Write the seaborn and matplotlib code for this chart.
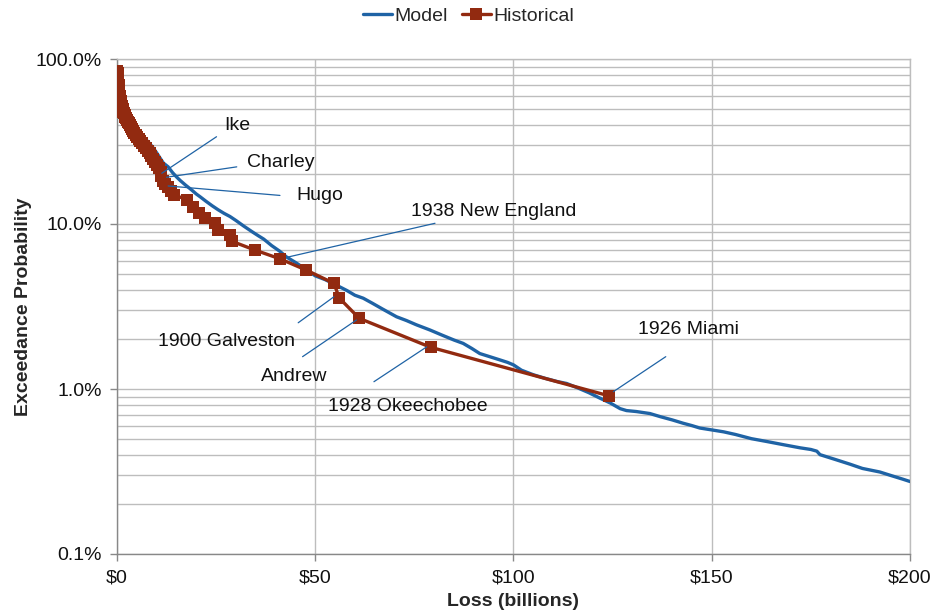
import matplotlib
matplotlib.use("Agg")
import matplotlib.pyplot as plt
import matplotlib.ticker as mticker
import seaborn as sns
import pandas as pd
import numpy as np

# ---------------- data ----------------
model_loss = [0.3, 0.6, 1.0, 1.5, 2.0, 2.5, 3.2, 4.0, 5.0, 6.0, 7.0, 8.0, 9.0, 10.0,
              11.0, 11.7, 12.9, 14.0, 15.0, 16.0, 17.3, 18.8, 20.0, 21.0, 22.5, 24.0,
              25.5, 27.0, 28.5, 30.0, 32.0, 34.0, 35.6, 37.0, 39.0, 41.0, 42.8, 45.0,
              47.7, 50.0, 52.5, 55.0, 58.0, 60.0, 62.1, 64.5, 67.0, 70.5, 73.0, 75.5,
              78.9, 82.0, 85.0, 87.3, 89.5, 91.5, 94.0, 96.6, 98.5, 100.0, 102.0, 105.0,
              108.0, 111.0, 113.4, 116.0, 119.0, 121.8, 124.5, 126.9, 128.5, 131.0,
              134.4, 137.0, 140.0, 142.8, 145.0, 147.0, 150.0, 153.0, 156.0, 160.0,
              164.0, 168.0, 172.3, 175.0, 176.5, 177.3, 181.0, 184.9, 188.0, 192.4,
              195.0, 198.0, 200.0]
model_prob = [78, 68, 58, 52, 48, 45, 42.5, 40.5, 38.5, 35.5, 33, 31.2, 29.2, 27,
              24.8, 23.4, 22.2, 20.5, 19.3, 18.3, 17.2, 16.1, 15.2, 14.6, 13.7, 12.9,
              12.2, 11.6, 11.1, 10.5, 9.7, 9.0, 8.5, 8.1, 7.4, 6.85, 6.3, 5.85,
              5.3, 4.85, 4.6, 4.3, 3.95, 3.7, 3.55, 3.3, 3.05, 2.74, 2.6, 2.45,
              2.28, 2.12, 1.98, 1.89, 1.76, 1.64, 1.57, 1.5, 1.45, 1.40, 1.30, 1.22,
              1.16, 1.11, 1.08, 1.02, 0.95, 0.88, 0.82, 0.76, 0.74, 0.73,
              0.71, 0.68, 0.65, 0.62, 0.60, 0.58, 0.565, 0.55, 0.53, 0.50,
              0.48, 0.46, 0.44, 0.43, 0.42, 0.40, 0.375, 0.35, 0.33, 0.314,
              0.30, 0.285, 0.275]

hist_loss = [124.0, 79.1, 61.1, 56.1, 54.7, 47.7, 41.1, 34.8, 29.0, 28.5, 25.4, 24.6,
             22.1, 20.8, 19.2, 17.7, 14.5, 13.5, 12.9, 12.0, 11.6, 11.2, 11.0,
             10.5, 10.0, 9.5, 9.0, 8.6, 8.2, 7.8, 7.3, 6.8, 6.3, 5.9, 5.5, 5.1, 4.7,
             4.4, 4.1, 3.8, 3.5, 3.2, 3.0, 2.7, 2.5, 2.3, 2.1, 1.9, 1.8, 1.6, 1.5,
             1.4, 1.3, 1.2, 1.1, 1.0, 0.9, 0.8, 0.7, 0.6, 0.5, 0.45, 0.4, 0.35, 0.3,
             0.25, 0.2, 0.15, 0.1]
hist_prob = [0.91, 1.79, 2.68, 3.55, 4.37, 5.26, 6.15, 6.95, 7.85, 8.6, 9.25, 10.1,
             10.8, 11.6, 12.6, 14.0, 15.0, 15.9, 16.8, 17.5, 18.2, 19.5, 20.8,
             21.8, 22.8, 23.8, 24.8, 25.8, 26.8, 27.8, 28.8, 29.8, 30.8, 31.8, 32.8,
             33.8, 34.8, 35.8, 36.8, 37.8, 38.8, 39.8, 40.8, 41.8, 42.8, 43.8, 44.8,
             45.8, 46.8, 47.8, 48.8, 49.8, 50.8, 51.8, 53.0, 54.5, 56.0, 58.0, 60.0,
             62.5, 65.0, 67.5, 70.0, 72.5, 75.0, 77.5, 80.0, 82.5, 85.0]

# annotations: label, text anchor (loss, prob), leader start, leader end
ann_labels = ["Ike", "Charley", "Hugo", "1938 New England", "1900 Galveston",
              "Andrew", "1928 Okeechobee", "1926 Miami"]
ann_text_xy = [(27.1, 39.5), (32.8, 23.5), (45.3, 14.9), (74.1, 11.9),
               (10.3, 1.93), (36.3, 1.19), (53.2, 0.78), (131.4, 2.28)]
ann_line_from = [(25.1, 33.8), (30.2, 22.2), (41.1, 14.9), (80.2, 10.1),
                 (45.7, 2.52), (46.8, 1.57), (64.8, 1.107), (138.4, 1.57)]
ann_line_to = [(11.3, 20.3), (12.5, 19.2), (12.9, 17.0), (42.8, 6.28),
               (54.7, 3.62), (60.4, 2.62), (78.1, 1.80), (125.2, 0.964)]

x_ticks = [0, 50, 100, 150, 200]
x_tick_labels = ["$0", "$50", "$100", "$150", "$200"]
y_ticks = [0.1, 1.0, 10.0, 100.0]
y_tick_labels = ["0.1%", "1.0%", "10.0%", "100.0%"]

# ---------------- style ----------------
sns.set_theme(style="white")
plt.rcParams["font.family"] = ["Liberation Sans", "DejaVu Sans"]
plt.rcParams["font.size"] = 14

BLUE = "#1f63a5"
RED = "#922a10"
GRID = "#bdbdbd"

fig = plt.figure(figsize=(9.37, 6.15), dpi=100)
ax = fig.add_axes([117 / 937, 61 / 615, (910 - 117) / 937, (554 - 59) / 615])

model_df = pd.DataFrame({"loss": model_loss, "prob": model_prob})
hist_df = pd.DataFrame({"loss": hist_loss, "prob": hist_prob})

ax.set_yscale("log")
ax.set_xlim(0, 200)
ax.set_ylim(0.1, 100)

# grid
ax.yaxis.set_minor_locator(mticker.LogLocator(base=10, subs=np.arange(2, 10)))
ax.grid(True, which="major", axis="both", color=GRID, lw=1.0, zorder=0)
ax.grid(True, which="minor", axis="y", color=GRID, lw=1.0, zorder=0)
ax.set_axisbelow(True)

sns.lineplot(data=model_df, x="loss", y="prob", ax=ax, color=BLUE, lw=2.4,
             estimator=None, sort=False, label="Model", zorder=3)
sns.lineplot(data=hist_df, x="loss", y="prob", ax=ax, color=RED, lw=2.4,
             marker="s", markersize=8, markeredgewidth=0, estimator=None,
             sort=False, label="Historical", zorder=4)

for lab, txy, p0, p1 in zip(ann_labels, ann_text_xy, ann_line_from, ann_line_to):
    ax.plot([p0[0], p1[0]], [p0[1], p1[1]], color=BLUE, lw=0.9, zorder=5)
    ax.text(txy[0], txy[1], lab, fontsize=14, color="#111111", ha="left",
            va="center", zorder=6)

ax.set_xticks(x_ticks)
ax.set_xticklabels(x_tick_labels)
ax.set_yticks(y_ticks)
ax.set_yticklabels(y_tick_labels)
ax.yaxis.set_minor_formatter(mticker.NullFormatter())
ax.tick_params(axis="both", which="major", length=5, width=1, color="#888888",
               labelsize=14, labelcolor="#111111", direction="out")
ax.tick_params(axis="y", which="minor", length=0)
ax.tick_params(axis="x", pad=6)
ax.tick_params(axis="y", pad=6)
ax.tick_params(left=True, bottom=True)

for side in ["top", "right"]:
    ax.spines[side].set_color(GRID)
    ax.spines[side].set_linewidth(1.0)
for side in ["left", "bottom"]:
    ax.spines[side].set_color("#888888")
    ax.spines[side].set_linewidth(1.0)

ax.set_xlabel("Loss (billions)", fontsize=14, fontweight="bold")
ax.set_ylabel("Exceedance Probability", fontsize=14, fontweight="bold")
ax.xaxis.set_label_coords(0.5, -0.079)
ax.yaxis.set_label_coords(-0.107, 0.5)

handles, labels = ax.get_legend_handles_labels()
ax.get_legend().remove()
fig.legend(handles, labels, loc="center", bbox_to_anchor=(0.5, 1 - 16 / 615),
           ncol=2, frameon=False, fontsize=14, handlelength=1.5,
           handletextpad=0.15, columnspacing=0.7, borderaxespad=0)

fig.savefig("out.png", dpi=100)
